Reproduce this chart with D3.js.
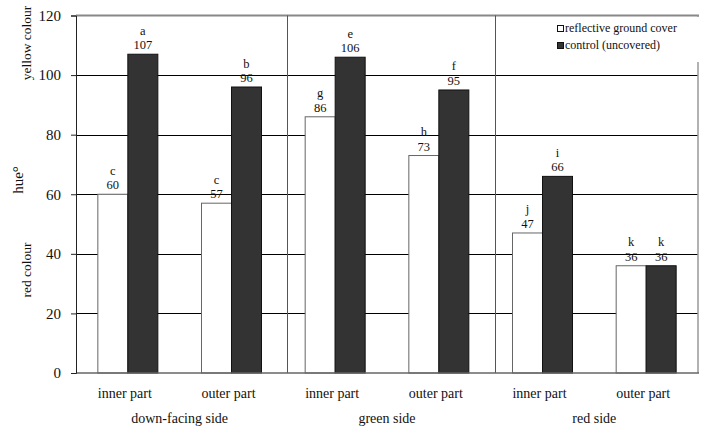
<!DOCTYPE html>
<html>
<head>
<meta charset="utf-8">
<script src="https://cdn.jsdelivr.net/npm/d3@7/dist/d3.min.js"></script>
<style>
  html, body { margin: 0; padding: 0; background: #fff; }
  svg text { font-family: "Liberation Serif", "DejaVu Serif", serif; }
</style>
</head>
<body>
<svg id="chart" width="707" height="430"></svg>
<script>
// Fruit skin hue angle by side of fruit and part, two ground treatments
const sides = ["down-facing side", "green side", "red side"];
const parts = ["inner part", "outer part", "inner part", "outer part", "inner part", "outer part"];
const partSide = [0, 0, 1, 1, 2, 2];
const seriesNames = ["reflective ground cover", "control (uncovered)"];
const reflective = [60, 57, 86, 73, 47, 36];
const control = [107, 96, 106, 95, 66, 36];
const reflectiveLetters = ["c", "c", "g", "h", "j", "k"];
const controlLetters = ["a", "b", "e", "f", "i", "k"];
const yTicks = [0, 20, 40, 60, 80, 100, 120];

(function draw() {
const serif = "Liberation Serif, DejaVu Serif, serif";
const svg = d3.select("#chart");
const plotLeft = 76, plotRight = 698, plotTop = 15.5, plotBottom = 373;

const idx = d3.range(parts.length);
const x0 = d3.scaleBand().domain(idx).range([plotLeft, plotRight]).paddingInner(0).paddingOuter(0);
const x1 = d3.scaleBand().domain([0, 1]).range([0, x0.bandwidth()]).paddingInner(0).paddingOuter(0.728);
const y = d3.scaleLinear().domain([0, 120]).range([plotBottom, plotTop]);

const fills = ["#ffffff", "#333333"];
const strokes = ["#666666", "#111111"];

// horizontal gridlines
svg.append("g").selectAll("line")
  .data(yTicks.filter(t => t > 0 && t < 120))
  .join("line")
  .attr("x1", plotLeft).attr("x2", plotRight)
  .attr("y1", d => Math.round(y(d)) + 0.5).attr("y2", d => Math.round(y(d)) + 0.5)
  .attr("stroke", "#000").attr("stroke-width", 1);

// frame: top and right border
svg.append("line").attr("x1", plotLeft).attr("x2", plotRight + 1).attr("y1", y(120)).attr("y2", y(120))
  .attr("stroke", "#888").attr("stroke-width", 2);
svg.append("line").attr("x1", plotRight).attr("x2", plotRight).attr("y1", y(120)).attr("y2", plotBottom)
  .attr("stroke", "#999").attr("stroke-width", 1.5);

// separators between fruit sides
const sepX = [2, 4].map(i => Math.round(x0(i)) + 4.5);
svg.append("g").selectAll("line").data(sepX).join("line")
  .attr("x1", d => d).attr("x2", d => d).attr("y1", y(120)).attr("y2", plotBottom)
  .attr("stroke", "#555").attr("stroke-width", 1);

// bars
const barData = [];
idx.forEach(i => {
  barData.push({ i, s: 0, v: reflective[i], l: reflectiveLetters[i] });
  barData.push({ i, s: 1, v: control[i], l: controlLetters[i] });
});

svg.append("g").selectAll("rect").data(barData).join("rect")
  .attr("x", d => x0(d.i) + x1(d.s))
  .attr("y", d => y(d.v))
  .attr("width", x1.bandwidth())
  .attr("height", d => y(0) - y(d.v))
  .attr("fill", d => fills[d.s])
  .attr("stroke", d => strokes[d.s])
  .attr("stroke-width", 1);

// value and significance letter above each bar
const lab = svg.append("g").attr("font-size", 12.5).attr("font-family", serif)
  .attr("text-anchor", "middle").attr("fill", "#111");
lab.selectAll("text.val").data(barData).join("text").attr("class", "val")
  .attr("x", d => x0(d.i) + x1(d.s) + x1.bandwidth() / 2)
  .attr("y", d => y(d.v) - 5)
  .text(d => d.v);
lab.selectAll("text.let").data(barData).join("text").attr("class", "let")
  .attr("x", d => x0(d.i) + x1(d.s) + x1.bandwidth() / 2)
  .attr("y", d => y(d.v) - 19.5)
  .text(d => d.l);

// bottom axis line
svg.append("line").attr("x1", plotLeft).attr("x2", plotRight + 1).attr("y1", plotBottom).attr("y2", plotBottom)
  .attr("stroke", "#666").attr("stroke-width", 1.5);

// y axis
const yAxis = d3.axisLeft(y).tickValues(yTicks).tickSize(5).tickPadding(10).tickFormat(d3.format("d"));
const ya = svg.append("g").attr("transform", `translate(${plotLeft},0)`).call(yAxis)
  .attr("font-family", serif).attr("font-size", 15);
ya.select(".domain").attr("stroke", "#222");
ya.selectAll(".tick line").attr("stroke", "#222");
ya.selectAll("text").attr("fill", "#111");

// category labels
svg.append("g").attr("font-family", serif).selectAll("text").data(idx).join("text")
  .attr("x", i => x0(i) + x0.bandwidth() / 2 - 3)
  .attr("y", 398)
  .attr("text-anchor", "middle").attr("font-size", 14).attr("fill", "#111")
  .text(i => parts[i]);

svg.append("g").attr("font-family", serif).selectAll("text").data(sides).join("text")
  .attr("x", (d, s) => {
    const members = idx.filter(i => partSide[i] === s);
    return (x0(members[0]) + x0(members[members.length - 1]) + x0.bandwidth()) / 2;
  })
  .attr("y", 423)
  .attr("text-anchor", "middle").attr("font-size", 14).attr("fill", "#111")
  .text(d => d);

// y axis titles
const titles = svg.append("g").attr("font-family", serif).attr("fill", "#111").attr("text-anchor", "middle");
titles.append("text").attr("transform", "translate(23,180) rotate(-90)")
  .attr("font-size", 15).text("hue°");
titles.append("text").attr("transform", "translate(31,43) rotate(-90)")
  .attr("font-size", 13.5).text("yellow colour");
titles.append("text").attr("transform", "translate(31,270) rotate(-90)")
  .attr("font-size", 13.5).text("red colour");

// legend
const lg = svg.append("g").attr("font-family", serif);
lg.append("rect").attr("x", 553).attr("y", 17).attr("width", 146).attr("height", 45).attr("fill", "#fff");
const items = lg.selectAll("g").data(seriesNames).join("g")
  .attr("transform", (d, k) => `translate(557,${25 + k * 17})`);
items.append("rect").attr("x", 0.5).attr("y", 0.5).attr("width", 6).attr("height", 6)
  .attr("fill", (d, k) => fills[k]).attr("stroke", "#111").attr("stroke-width", 1);
items.append("text").attr("x", 8).attr("y", 7).attr("font-size", 12).attr("fill", "#111").text(d => d);
})();
</script>
</body>
</html>
